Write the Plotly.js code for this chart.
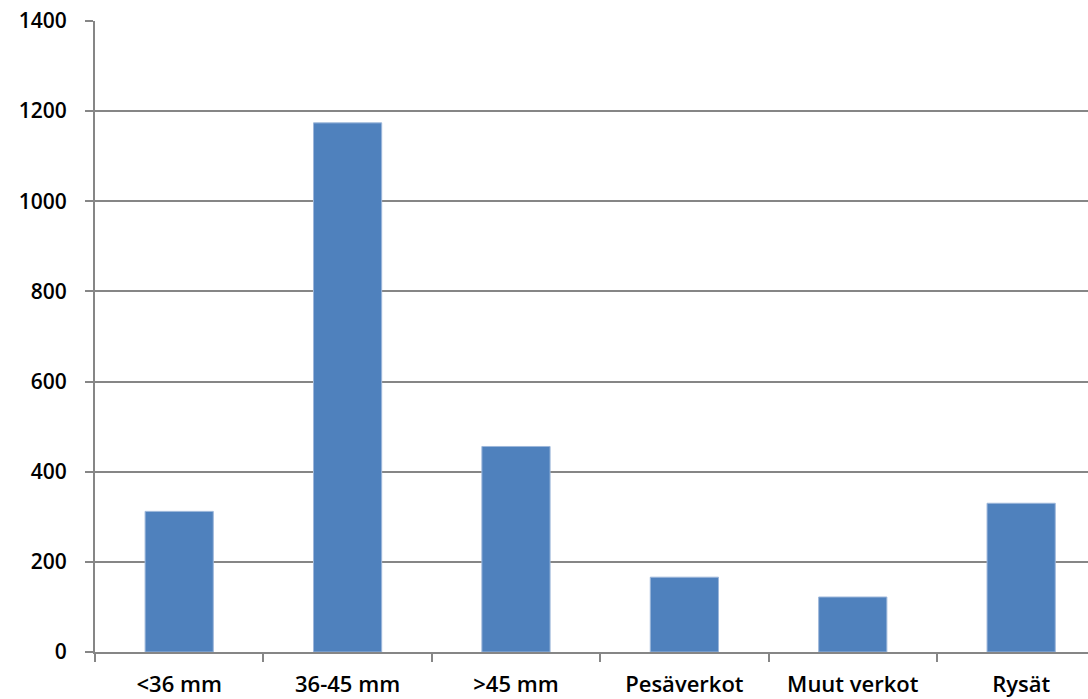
<!DOCTYPE html>
<html><head><meta charset="utf-8">
<script src="https://cdn.plot.ly/plotly-3.0.1.min.js"></script>
<style>html,body{margin:0;padding:0;background:#fff}</style>
</head><body>
<div id="chart" style="width:1088px;height:699px"></div>
<script>
const categories = ["<36 mm", "36-45 mm", ">45 mm", "Pesäverkot", "Muut verkot", "Rysät"];
const values = [312, 1174, 456, 166, 122, 330];
const yTicks = [0, 200, 400, 600, 800, 1000, 1200, 1400];

const font = {family: "Open Sans, Liberation Sans, sans-serif", size: 21, color: "#000"};
Plotly.newPlot("chart", [{
  type: "bar",
  x: categories,
  y: values,
  width: 0.405,
  marker: {color: "#4F81BD", line: {color: "#9DB7DA", width: 1}},
  hoverinfo: "none"
}], {
  width: 1088, height: 699,
  margin: {l: 95, r: 0, t: 21, b: 47, pad: 0},
  paper_bgcolor: "#fff", plot_bgcolor: "#fff",
  showlegend: false,
  font: font,
  xaxis: {
    type: "category",
    range: [-0.5, 5.397],
    showgrid: false,
    showline: true, linecolor: "#868686", linewidth: 2,
    ticks: "outside", tickson: "boundaries", ticklen: 8, tickwidth: 2, tickcolor: "#868686",
    tickfont: {family: "Open Sans, sans-serif", size: 22, color: "#000", weight: 600},
    ticklabelstandoff: 12,
    fixedrange: true
  },
  yaxis: {
    range: [0, 1400],
    tickvals: yTicks,
    ticktext: yTicks.map(String),
    showgrid: true, gridcolor: "#868686", gridwidth: 2,
    zeroline: false,
    showline: true, linecolor: "#868686", linewidth: 2,
    ticks: "outside", ticklen: 8, tickwidth: 2, tickcolor: "#868686",
    tickfont: {family: "Open Sans, sans-serif", size: 21, color: "#000", weight: 600},
    ticklabelstandoff: 14,
    fixedrange: true
  }
}, {displayModeBar: false, staticPlot: true});
</script>
</body></html>
